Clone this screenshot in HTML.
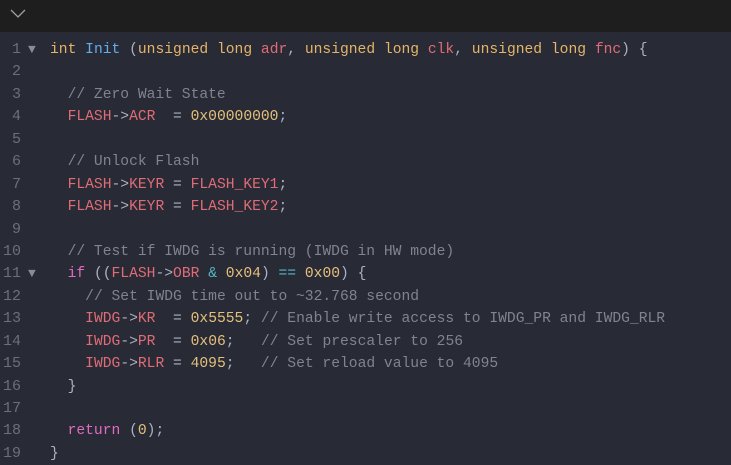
<!DOCTYPE html>
<html><head><style>
body{margin:0;width:731px;height:460px;overflow:hidden;background:#282a36;}
.hd{position:absolute;left:0;top:0;width:731px;height:32px;background:#1e1e1f;}
.code{position:absolute;left:0;top:39px;font-family:"Liberation Mono",monospace;font-size:14.65px;color:#abb2bf;}
.l{position:relative;height:22.44px;line-height:22.44px;white-space:pre;}
.n{position:absolute;left:0;width:21px;text-align:right;color:#6b6f7d;font-size:15px;}
.f{position:absolute;left:28px;color:#8a8d97;font-size:13px;}
.t{position:absolute;left:50px;}
.k{color:#e5b567}.fn{color:#61afef}.v{color:#e06c75}.c{color:#7f848e}.num{color:#e5c07b}.kw{color:#e06cc0}.op{color:#56b6c2}
</style></head><body>
<div class="hd"><svg width="20" height="14" style="position:absolute;left:9px;top:7px"><polyline points="2,3 9,10 16,3" fill="none" stroke="#a0a0a0" stroke-width="1.3"/></svg></div>
<div class="code">
<div class="l"><span class="n">1</span><span class="f">▼</span><span class="t"><span class="k">int</span> <span class="fn">Init</span> (<span class="k">unsigned long</span> <span class="v">adr</span>, <span class="k">unsigned long</span> <span class="v">clk</span>, <span class="k">unsigned long</span> <span class="v">fnc</span>) {</span></div>
<div class="l"><span class="n">2</span></div>
<div class="l"><span class="n">3</span><span class="t">  <span class="c">// Zero Wait State</span></span></div>
<div class="l"><span class="n">4</span><span class="t">  <span class="v">FLASH</span>-&gt;<span class="v">ACR</span>  = <span class="num">0x00000000</span>;</span></div>
<div class="l"><span class="n">5</span></div>
<div class="l"><span class="n">6</span><span class="t">  <span class="c">// Unlock Flash</span></span></div>
<div class="l"><span class="n">7</span><span class="t">  <span class="v">FLASH</span>-&gt;<span class="v">KEYR</span> = <span class="v">FLASH_KEY1</span>;</span></div>
<div class="l"><span class="n">8</span><span class="t">  <span class="v">FLASH</span>-&gt;<span class="v">KEYR</span> = <span class="v">FLASH_KEY2</span>;</span></div>
<div class="l"><span class="n">9</span></div>
<div class="l"><span class="n">10</span><span class="t">  <span class="c">// Test if IWDG is running (IWDG in HW mode)</span></span></div>
<div class="l"><span class="n">11</span><span class="f">▼</span><span class="t">  <span class="kw">if</span> ((<span class="v">FLASH</span>-&gt;<span class="v">OBR</span> <span class="op">&amp;</span> <span class="num">0x04</span>) <span class="op">==</span> <span class="num">0x00</span>) {</span></div>
<div class="l"><span class="n">12</span><span class="t">    <span class="c">// Set IWDG time out to ~32.768 second</span></span></div>
<div class="l"><span class="n">13</span><span class="t">    <span class="v">IWDG</span>-&gt;<span class="v">KR</span>  = <span class="num">0x5555</span>; <span class="c">// Enable write access to IWDG_PR and IWDG_RLR</span></span></div>
<div class="l"><span class="n">14</span><span class="t">    <span class="v">IWDG</span>-&gt;<span class="v">PR</span>  = <span class="num">0x06</span>;   <span class="c">// Set prescaler to 256</span></span></div>
<div class="l"><span class="n">15</span><span class="t">    <span class="v">IWDG</span>-&gt;<span class="v">RLR</span> = <span class="num">4095</span>;   <span class="c">// Set reload value to 4095</span></span></div>
<div class="l"><span class="n">16</span><span class="t">  }</span></div>
<div class="l"><span class="n">17</span></div>
<div class="l"><span class="n">18</span><span class="t">  <span class="kw">return</span> (<span class="num">0</span>);</span></div>
<div class="l"><span class="n">19</span><span class="t">}</span></div>
</div>
</body></html>
